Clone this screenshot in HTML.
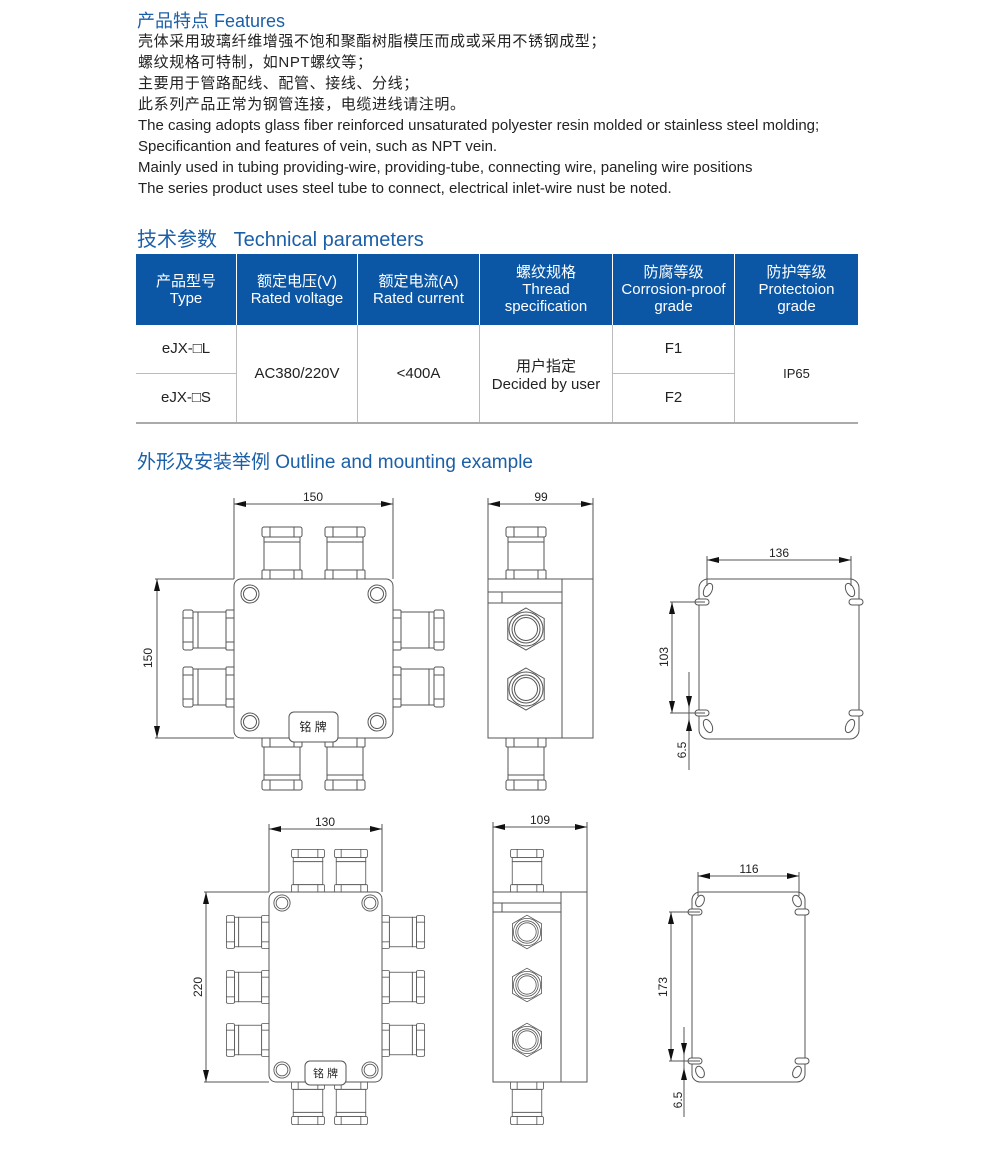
<!DOCTYPE html>
<html><head><meta charset="utf-8"><style>
body{margin:0;background:#fff;width:1000px;height:1151px;overflow:hidden;font-family:"Liberation Sans","Noto Sans CJK SC",sans-serif;color:#222;position:relative}
.h{position:absolute;left:137px;color:#1b5fa8;font-size:18px}
.t{position:absolute;left:138px;font-size:15px;line-height:21px;top:31px}
.c{letter-spacing:0.6px}
table{position:absolute;left:136px;top:254px;width:722px;border-collapse:collapse;font-size:15px}
th{background:#0b57a6;color:#fff;font-weight:normal;height:71px;border-left:1px solid #fff;line-height:17px;padding:0}
th:first-child{border-left:none}
td{text-align:center;border-left:1px solid #bbb;padding:0}
td.f{border-left:none}
</style></head><body>
<div class="h" style="top:7px">产品特点 Features</div>
<div class="t"><span class="c">壳体采用玻璃纤维增强不饱和聚酯树脂模压而成或采用不锈钢成型；<br>螺纹规格可特制，如NPT螺纹等；<br>主要用于管路配线、配管、接线、分线；<br>此系列产品正常为钢管连接，电缆进线请注明。</span><br>The casing adopts glass fiber reinforced unsaturated polyester resin molded or stainless steel molding;<br>Specificantion and features of vein, such as NPT vein.<br>Mainly used in tubing providing-wire, providing-tube, connecting wire, paneling wire positions<br>The series product uses steel tube to connect, electrical inlet-wire nust be noted.</div>
<div class="h" style="top:223px;font-size:20px">技术参数&nbsp;&nbsp;&nbsp;Technical parameters</div>
<table>
<tr><th style="width:100px">产品型号<br>Type</th><th style="width:120px">额定电压(V)<br>Rated voltage</th><th style="width:121px">额定电流(A)<br>Rated current</th><th style="width:132px">螺纹规格<br>Thread<br>specification</th><th style="width:121px">防腐等级<br>Corrosion-proof<br>grade</th><th>防护等级<br>Protectoion<br>grade</th></tr>
<tr style="height:48px"><td class="f" style="border-bottom:1px solid #bbb">eJX-□L</td><td rowspan="2">AC380/220V</td><td rowspan="2">&lt;400A</td><td rowspan="2">用户指定<br>Decided by user</td><td style="border-bottom:1px solid #bbb">F1</td><td rowspan="2" style="font-size:13px">IP65</td></tr>
<tr style="height:50px;border-bottom:2px solid #aaa"><td class="f">eJX-□S</td><td>F2</td></tr>
</table>
<div class="h" style="top:447px;font-size:19px">外形及安装举例 Outline and mounting example</div>

<svg width="1000" height="1151" style="position:absolute;left:0;top:0" xmlns="http://www.w3.org/2000/svg">
<defs>
<marker id="a" markerWidth="12" markerHeight="6" refX="12" refY="3" orient="auto-start-reverse" markerUnits="userSpaceOnUse"><path d="M0,0L12,3L0,6z" fill="#111"/></marker>
<g id="cv" fill="#fff" stroke="#555" stroke-width="1" vector-effect="non-scaling-stroke">
<rect x="-20" y="0" width="40" height="10" rx="2"/><line x1="-12" y1="0" x2="-12" y2="10"/><line x1="12" y1="0" x2="12" y2="10"/>
<rect x="-18" y="10" width="36" height="5"/>
<rect x="-18" y="15" width="36" height="28"/>
<rect x="-20" y="43" width="40" height="9" rx="1"/><line x1="-12" y1="43" x2="-12" y2="52"/><line x1="12" y1="43" x2="12" y2="52"/>
</g>
<g id="gl" fill="#fff" stroke="#555">
<polygon points="0,-21 18.2,-10.5 18.2,10.5 0,21 -18.2,10.5 -18.2,-10.5"/><circle r="17"/><circle r="14"/><circle r="11.5"/>
</g>
<g id="bolt" fill="none" stroke="#555"><circle r="9"/><circle r="6.5"/></g>
</defs>
<g stroke="#555" fill="none" stroke-width="1" font-family="Liberation Sans" font-size="12" >
<use href="#cv" transform="translate(282,527)"/><use href="#cv" transform="translate(345,527)"/>
<use href="#cv" transform="translate(282,790) scale(1,-1)"/><use href="#cv" transform="translate(345,790) scale(1,-1)"/>
<use href="#cv" transform="translate(183,630) rotate(-90)"/><use href="#cv" transform="translate(183,687) rotate(-90)"/>
<use href="#cv" transform="translate(444,630) rotate(90)"/><use href="#cv" transform="translate(444,687) rotate(90)"/>
<rect x="234" y="579" width="159" height="159" rx="7" fill="#fff"/>
<use href="#bolt" x="250" y="594"/><use href="#bolt" x="377" y="594"/><use href="#bolt" x="250" y="722"/><use href="#bolt" x="377" y="722"/>
<rect x="289" y="712" width="49" height="30" rx="5" fill="#fff"/>
<text x="313" y="731" text-anchor="middle" fill="#222" stroke="none" font-family="Liberation Sans,Noto Sans CJK SC,sans-serif">铭 牌</text>
<line x1="234" y1="498" x2="234" y2="579"/><line x1="393" y1="498" x2="393" y2="579"/>
<line x1="234" y1="504" x2="393" y2="504" marker-start="url(#a)" marker-end="url(#a)"/>
<text x="313" y="501" text-anchor="middle" fill="#222" stroke="none">150</text>
<line x1="155" y1="579" x2="234" y2="579"/><line x1="155" y1="738" x2="234" y2="738"/>
<line x1="157" y1="579" x2="157" y2="738" marker-start="url(#a)" marker-end="url(#a)"/>
<text transform="translate(152,658) rotate(-90)" text-anchor="middle" fill="#222" stroke="none">150</text>
<use href="#cv" transform="translate(526,527)"/><use href="#cv" transform="translate(526,790) scale(1,-1)"/>
<rect x="488" y="579" width="105" height="159" fill="#fff"/><line x1="562" y1="579" x2="562" y2="738"/>
<rect x="488" y="592" width="74" height="11"/><line x1="502" y1="592" x2="502" y2="603"/>
<use href="#gl" x="526" y="629"/><use href="#gl" x="526" y="689"/>
<line x1="488" y1="498" x2="488" y2="579"/><line x1="593" y1="498" x2="593" y2="579"/>
<line x1="488" y1="504" x2="593" y2="504" marker-start="url(#a)" marker-end="url(#a)"/>
<text x="541" y="501" text-anchor="middle" fill="#222" stroke="none">99</text>
<rect x="699" y="579" width="160" height="160" rx="9"/>
<g fill="#fff"><rect x="695" y="599" width="14" height="6" rx="3"/><rect x="695" y="710" width="14" height="6" rx="3"/><rect x="849" y="599" width="14" height="6" rx="3"/><rect x="849" y="710" width="14" height="6" rx="3"/></g>
<ellipse cx="708" cy="590" rx="4" ry="7" transform="rotate(25 708 590)"/><ellipse cx="850" cy="590" rx="4" ry="7" transform="rotate(-25 850 590)"/>
<ellipse cx="708" cy="726" rx="4" ry="7" transform="rotate(-25 708 726)"/><ellipse cx="850" cy="726" rx="4" ry="7" transform="rotate(25 850 726)"/>
<line x1="707" y1="556" x2="707" y2="586"/><line x1="851" y1="556" x2="851" y2="586"/>
<line x1="707" y1="560" x2="851" y2="560" marker-start="url(#a)" marker-end="url(#a)"/>
<text x="779" y="557" text-anchor="middle" fill="#222" stroke="none">136</text>
<line x1="670" y1="602" x2="705" y2="602"/><line x1="670" y1="713" x2="705" y2="713"/>
<line x1="672" y1="602" x2="672" y2="713" marker-start="url(#a)" marker-end="url(#a)"/>
<text transform="translate(668,657) rotate(-90)" text-anchor="middle" fill="#222" stroke="none">103</text>
<line x1="689" y1="672" x2="689" y2="770"/>
<line x1="689" y1="695" x2="689" y2="708" marker-end="url(#a)"/><line x1="689" y1="733" x2="689" y2="719" marker-end="url(#a)"/>
<text transform="translate(686,750) rotate(-90)" text-anchor="middle" fill="#222" stroke="none">6.5</text>

<use href="#cv" transform="translate(308,849.4) scale(.82)"/><use href="#cv" transform="translate(351,849.4) scale(.82)"/>
<use href="#cv" transform="translate(308,1124.6) scale(.82,-.82)"/><use href="#cv" transform="translate(351,1124.6) scale(.82,-.82)"/>
<use href="#cv" transform="translate(226.4,932) rotate(-90) scale(.82)"/><use href="#cv" transform="translate(226.4,987) rotate(-90) scale(.82)"/><use href="#cv" transform="translate(226.4,1040) rotate(-90) scale(.82)"/>
<use href="#cv" transform="translate(424.6,932) rotate(90) scale(.82)"/><use href="#cv" transform="translate(424.6,987) rotate(90) scale(.82)"/><use href="#cv" transform="translate(424.6,1040) rotate(90) scale(.82)"/>
<rect x="269" y="892" width="113" height="190" rx="7" fill="#fff"/>
<use href="#bolt" transform="translate(282,903) scale(.9)"/><use href="#bolt" transform="translate(370,903) scale(.9)"/><use href="#bolt" transform="translate(282,1070) scale(.9)"/><use href="#bolt" transform="translate(370,1070) scale(.9)"/>
<rect x="305" y="1061" width="41" height="24" rx="5" fill="#fff"/>
<text x="325.5" y="1077" text-anchor="middle" fill="#222" stroke="none" font-size="11" font-family="Liberation Sans,Noto Sans CJK SC,sans-serif">铭 牌</text>
<line x1="269" y1="824" x2="269" y2="892"/><line x1="382" y1="824" x2="382" y2="892"/>
<line x1="269" y1="829" x2="382" y2="829" marker-start="url(#a)" marker-end="url(#a)"/>
<text x="325" y="826" text-anchor="middle" fill="#222" stroke="none">130</text>
<line x1="204" y1="892" x2="269" y2="892"/><line x1="204" y1="1082" x2="269" y2="1082"/>
<line x1="206" y1="892" x2="206" y2="1082" marker-start="url(#a)" marker-end="url(#a)"/>
<text transform="translate(202,987) rotate(-90)" text-anchor="middle" fill="#222" stroke="none">220</text>
<use href="#cv" transform="translate(527,849.4) scale(.82)"/><use href="#cv" transform="translate(527,1124.6) scale(.82,-.82)"/>
<rect x="493" y="892" width="94" height="190" fill="#fff"/><line x1="561" y1="892" x2="561" y2="1082"/>
<rect x="493" y="903" width="68" height="9"/><line x1="502" y1="903" x2="502" y2="912"/>
<use href="#gl" transform="translate(527,932) scale(.8)"/><use href="#gl" transform="translate(527,985) scale(.8)"/><use href="#gl" transform="translate(527,1040) scale(.8)"/>
<line x1="493" y1="822" x2="493" y2="892"/><line x1="587" y1="822" x2="587" y2="892"/>
<line x1="493" y1="827" x2="587" y2="827" marker-start="url(#a)" marker-end="url(#a)"/>
<text x="540" y="824" text-anchor="middle" fill="#222" stroke="none">109</text>
<rect x="692" y="892" width="113" height="190" rx="8"/>
<g fill="#fff"><rect x="688" y="909" width="14" height="6" rx="3"/><rect x="688" y="1058" width="14" height="6" rx="3"/><rect x="795" y="909" width="14" height="6" rx="3"/><rect x="795" y="1058" width="14" height="6" rx="3"/></g>
<ellipse cx="700" cy="901" rx="4" ry="6" transform="rotate(25 700 901)"/><ellipse cx="797" cy="901" rx="4" ry="6" transform="rotate(-25 797 901)"/>
<ellipse cx="700" cy="1072" rx="4" ry="6" transform="rotate(-25 700 1072)"/><ellipse cx="797" cy="1072" rx="4" ry="6" transform="rotate(25 797 1072)"/>
<line x1="698" y1="872" x2="698" y2="896"/><line x1="799" y1="872" x2="799" y2="896"/>
<line x1="698" y1="876" x2="799" y2="876" marker-start="url(#a)" marker-end="url(#a)"/>
<text x="749" y="873" text-anchor="middle" fill="#222" stroke="none">116</text>
<line x1="669" y1="912" x2="700" y2="912"/><line x1="669" y1="1061" x2="700" y2="1061"/>
<line x1="671" y1="912" x2="671" y2="1061" marker-start="url(#a)" marker-end="url(#a)"/>
<text transform="translate(667,987) rotate(-90)" text-anchor="middle" fill="#222" stroke="none">173</text>
<line x1="684" y1="1027" x2="684" y2="1117"/>
<line x1="684" y1="1043" x2="684" y2="1055" marker-end="url(#a)"/><line x1="684" y1="1082" x2="684" y2="1068" marker-end="url(#a)"/>
<text transform="translate(682,1100) rotate(-90)" text-anchor="middle" fill="#222" stroke="none">6.5</text>
</g>
</svg>
</body></html>
